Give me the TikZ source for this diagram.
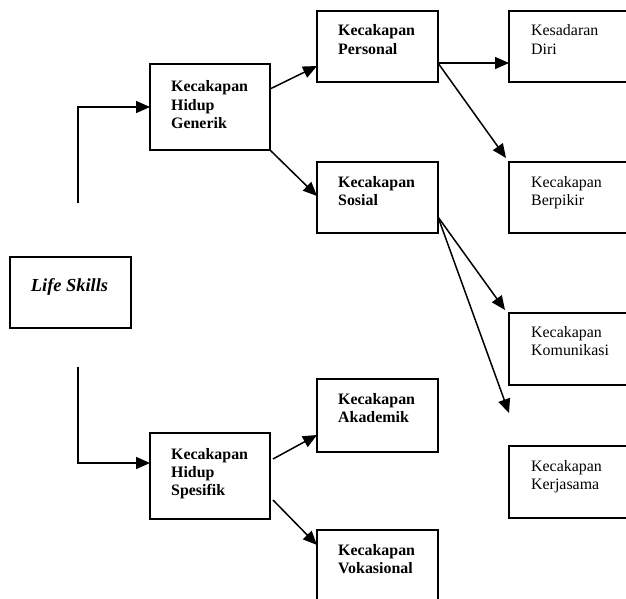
\documentclass[tikz,border=0pt]{standalone}
\usepackage{fontspec}
\setmainfont{Liberation Serif}
\usetikzlibrary{arrows.meta,calc}
\begin{document}
\begin{tikzpicture}[x=1pt,y=-1pt,
  box/.style={draw, line width=1.4pt, minimum width=121pt, minimum height=71pt,
    anchor=north west, inner sep=0pt, outer sep=0pt},
  txt/.style={anchor=base west, inner sep=0pt, font=\fontsize{15.9}{18.3}\selectfont},
  arr/.style={line width=1.5pt, -{Triangle[length=14pt,width=12pt]}}]
\useasboundingbox (0,0) rectangle (626,599);
\clip (0,0) rectangle (626,599);
% boxes
\node[box] (ls) at (10,257) {};
\node[box, minimum width=120pt, minimum height=86pt] (gen) at (150,64) {};
\node[box] (pers) at (317,11) {};
\node[box] (sos) at (317,162) {};
\node[box] (kes) at (509,11) {};
\node[box] (ber) at (509,162) {};
\node[box, minimum height=72pt] (kom) at (509,313) {};
\node[box, minimum height=72pt] (kerj) at (509,446) {};
\node[box, minimum height=73pt] (aka) at (317,379) {};
\node[box, minimum width=120pt, minimum height=86pt] (spe) at (150,433) {};
\node[box] (vok) at (317,530) {};
% texts
\node[txt, anchor=base, font=\fontsize{18.4}{21}\selectfont] (lst) at (69.5,291) {\textbf{\textit{Life Skills}}};
\node[txt] (gent) at (171,92) {\vtop{\bfseries\hbox{Kecakapan}\hbox{Hidup}\hbox{Generik}}};
\node[txt] (perst) at (338,36) {\vtop{\bfseries\hbox{Kecakapan}\hbox{Personal}}};
\node[txt] (sost) at (338,187) {\vtop{\bfseries\hbox{Kecakapan}\hbox{Sosial}}};
\node[txt] (kest) at (531,36) {\vtop{\hbox{Kesadaran}\hbox{Diri}}};
\node[txt] (bert) at (531,187) {\vtop{\hbox{Kecakapan}\hbox{Berpikir}}};
\node[txt] (komt) at (531,337) {\vtop{\hbox{Kecakapan}\hbox{Komunikasi}}};
\node[txt] (kerjt) at (531,471) {\vtop{\hbox{Kecakapan}\hbox{Kerjasama}}};
\node[txt] (akat) at (338,404) {\vtop{\bfseries\hbox{Kecakapan}\hbox{Akademik}}};
\node[txt] (spet) at (171,459) {\vtop{\bfseries\hbox{Kecakapan}\hbox{Hidup}\hbox{Spesifik}}};
\node[txt] (vokt) at (338,555) {\vtop{\bfseries\hbox{Kecakapan}\hbox{Vokasional}}};
% free ends
\coordinate (lsup) at (78,203);
\coordinate (lsdown) at (78,367);
\coordinate (berTip) at (506,158);
\coordinate (komTip) at (505,310);
\coordinate (kerjTip) at (509,413);
% connectors
\draw[arr] (lsup) |- (gen.west);
\draw[arr] (lsdown) |- ($(spe.north west)+(0,30)$);
\draw[arr] ($(gen.north east)+(0,25)$) -- ($(pers.north west)+(0,55)$);
\draw[arr] (gen.south east) -- ($(sos.north west)+(0,34)$);
\draw[arr] ($(pers.north east)+(0,52)$) -- ($(kes.north west)+(0,52)$);
\draw[arr] ($(pers.north east)+(0,52)$) -- (berTip);
\draw[arr] ($(sos.north east)+(0,55)$) -- (komTip);
\draw[arr] ($(sos.north east)+(0,55)$) -- (kerjTip);
\draw[arr] ($(spe.north east)+(3,26)$) -- ($(aka.north west)+(0,56)$);
\draw[arr] ($(spe.north east)+(3,67)$) -- ($(vok.north west)+(0,15)$);
\end{tikzpicture}
\end{document}
